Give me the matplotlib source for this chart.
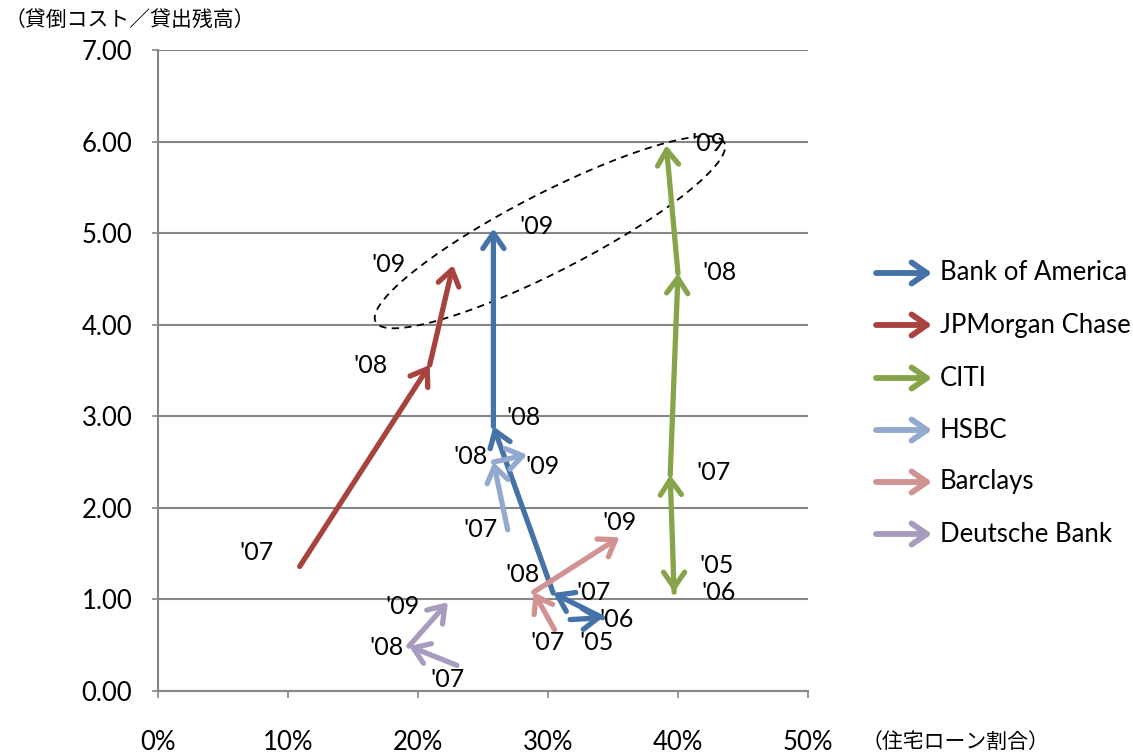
"""
Loan-loss cost ratio vs. share of housing loans, major banks '05-'09.
Each bank is drawn as a chain of arrows from year to year.
"""
import numpy as np
import matplotlib
matplotlib.use("Agg")
import matplotlib.pyplot as plt

plt.rcParams["font.family"] = ["Lato", "DejaVu Sans"]

# --- data (x: housing-loan share in %, y: credit cost / loans outstanding) ---
BANKS = ["Bank of America", "JPMorgan Chase", "CITI", "HSBC", "Barclays", "Deutsche Bank"]
COLORS = ["#4572A7", "#A8423F", "#86A44A", "#93A9CF", "#D19392", "#A99BBD"]

boa_years = ["'05", "'06", "'07", "'08", "'09"]
boa_x = [31.7, 34.2, 30.4, 25.8, 25.8]
boa_y = [0.78, 0.80, 1.07, 2.89, 5.05]

jpm_years = ["'07", "'08", "'09"]
jpm_x = [10.9, 20.9, 22.7]
jpm_y = [1.36, 3.56, 4.65]

citi_years = ["'05", "'06", "'07", "'08", "'09"]
citi_x = [39.7, 39.7, 39.4, 40.0, 39.1]
citi_y = [1.18, 1.08, 2.36, 4.56, 5.96]

hsbc_years = ["'07", "'08", "'09"]
hsbc_x = [26.9, 25.8, 28.4]
hsbc_y = [1.76, 2.50, 2.58]

barc_years = ["'07", "'08", "'09"]
barc_x = [30.5, 28.9, 35.5]
barc_y = [0.67, 1.08, 1.68]

db_years = ["'07", "'08", "'09"]
db_x = [23.0, 19.3, 22.3]
db_y = [0.28, 0.49, 0.97]

# label offsets in pixels (dx right, dy up) for each year label
boa_off = [(26, -23), (14, -2), (40, 1), (30, 9), (43, 2)]
jpm_off = [(-43, 14), (-59, 0), (-65, 1)]
citi_off = [(42, 17), (44, 0), (43, 2), (42, 1), (42, 2)]
hsbc_off = [(-27, 0), (-23, 6), (15, -12)]
barc_off = [(-7, -13), (-11, 18), (0, 15)]
db_off = [(-10, -14), (-22, -1), (-45, -4)]

series = [
    (boa_years, boa_x, boa_y, boa_off),
    (jpm_years, jpm_x, jpm_y, jpm_off),
    (citi_years, citi_x, citi_y, citi_off),
    (hsbc_years, hsbc_x, hsbc_y, hsbc_off),
    (barc_years, barc_x, barc_y, barc_off),
    (db_years, db_x, db_y, db_off),
]

W, H = 1133, 753
fig = plt.figure(figsize=(W / 100, H / 100), dpi=100)
ax = fig.add_axes([158 / W, 1 - 691 / H, 650 / W, 641 / H])

ax.set_xlim(0, 50)
ax.set_ylim(0, 7)
ax.set_xticks(np.arange(0, 51, 10))
ax.set_xticklabels([f"{v}%" for v in range(0, 51, 10)])
ax.set_yticks(np.arange(0, 7.01, 1))
ax.set_yticklabels([f"{v:.2f}" for v in np.arange(0, 7.01, 1)])

grid_c = "#868686"
ax.grid(axis="y", color=grid_c, lw=1.5)
ax.set_axisbelow(True)
for s in ["top", "right"]:
    ax.spines[s].set_visible(False)
for s in ["left", "bottom"]:
    ax.spines[s].set_color(grid_c)
    ax.spines[s].set_linewidth(1.5)
ax.tick_params(axis="y", length=4.5, width=1.2, color=grid_c, pad=14, labelsize=18.5)
ax.tick_params(axis="x", length=5, width=1.2, color=grid_c, pad=23, labelsize=18.5)

arrow_style = "->,head_length=0.55,head_width=0.38"

for (years, xs, ys, offs), color in zip(series, COLORS):
    for i in range(1, len(xs)):
        ax.annotate("", xy=(xs[i], ys[i]), xytext=(xs[i - 1], ys[i - 1]),
                    arrowprops=dict(arrowstyle=arrow_style, color=color, lw=3.8,
                                    shrinkA=0, shrinkB=0, mutation_scale=20,
                                    joinstyle="round"),
                    zorder=3)
    for yr, x, y, (dx, dy) in zip(years, xs, ys, offs):
        ax.annotate(yr, (x, y), xytext=(dx * 0.72, dy * 0.72), textcoords="offset points",
                    ha="center", va="center", fontsize=18, zorder=4)

# dashed ellipse round the '09 points (built in pixel-like units, then mapped back)
px_x, px_y = 650 / 50, 641 / 7
cx, cy = 30.15, 5.01
a, b, ang = 196, 39, np.deg2rad(27.2)
t = np.linspace(0, 2 * np.pi, 300)
u = a * np.cos(t) * np.cos(ang) - b * np.sin(t) * np.sin(ang)
v = a * np.cos(t) * np.sin(ang) + b * np.sin(t) * np.cos(ang)
ax.plot(cx + u / px_x, cy + v / px_y, color="black", lw=1.3, ls=(0, (4, 3)), zorder=2,
        clip_on=False)

# legend drawn by hand: arrow + name
leg_y = [273, 325, 378, 430, 482, 534]
for name, color, yy in zip(BANKS, COLORS, leg_y):
    fy = 1 - yy / H
    ax.annotate("", xy=(932 / W, fy), xytext=(876 / W, fy), xycoords="figure fraction",
                arrowprops=dict(arrowstyle=arrow_style, color=color, lw=4.2,
                                shrinkA=0, shrinkB=0, mutation_scale=20,
                                capstyle="round", joinstyle="round"))
    fig.text(940 / W, fy, name, fontsize=18.5, va="center", ha="left")

jp = ["Noto Sans CJK JP", "DejaVu Sans"]
fig.text(5 / W, 1 - 20 / H, "（貸倒コスト／貸出残高）", fontsize=15, family=jp,
         va="center", ha="left")
fig.text(862 / W, 1 - 742 / H, "（住宅ローン割合）", fontsize=15, family=jp,
         va="center", ha="left")

fig.savefig("out.png", dpi=100)
